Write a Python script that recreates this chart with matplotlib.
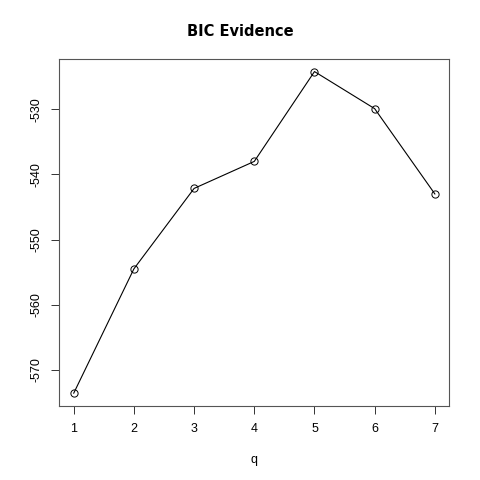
import matplotlib
matplotlib.use("Agg")
import matplotlib.pyplot as plt

plt.rcParams['font.family'] = ['Liberation Sans', 'DejaVu Sans']

q = [1, 2, 3, 4, 5, 6, 7]
bic = [-573.6, -554.5, -542.15, -538.0, -524.2, -529.9, -543.0]
yticks = [-570, -560, -550, -540, -530]
xticks = [1, 2, 3, 4, 5, 6, 7]

fig = plt.figure(figsize=(4.8, 4.8), dpi=100)
ax = fig.add_axes([59.3/480, (480-406)/480, 390/480, 347.3/480])

ax.plot(q, bic, color='black', lw=0.8, marker='o', markersize=5.2,
        markerfacecolor='none', markeredgecolor='black', markeredgewidth=0.7)

xs = max(q) - min(q)
ax.set_xlim(min(q) - 0.04*xs, max(q) + 0.04*xs)
ys = max(bic) - min(bic)
ax.set_ylim(min(bic) - 0.04*ys, max(bic) + 0.04*ys)

ax.set_xticks(xticks)
ax.set_yticks(yticks)
ax.set_xticklabels([str(v) for v in xticks], fontsize=9)
ax.set_yticklabels([str(v) for v in yticks], fontsize=9, rotation=90, va='center')
ax.tick_params(direction='out', length=6, width=0.7, color='#333333', pad=6)

for s in ax.spines.values():
    s.set_color('#555555')
    s.set_linewidth(0.8)

fig.text(0.5, 1 - 32/480, 'BIC Evidence', fontsize=10.5, fontweight='bold',
         family='DejaVu Sans', ha='center', va='center')
ax.set_xlabel('q', fontsize=9, labelpad=14)

fig.savefig('out.png', dpi=100)
